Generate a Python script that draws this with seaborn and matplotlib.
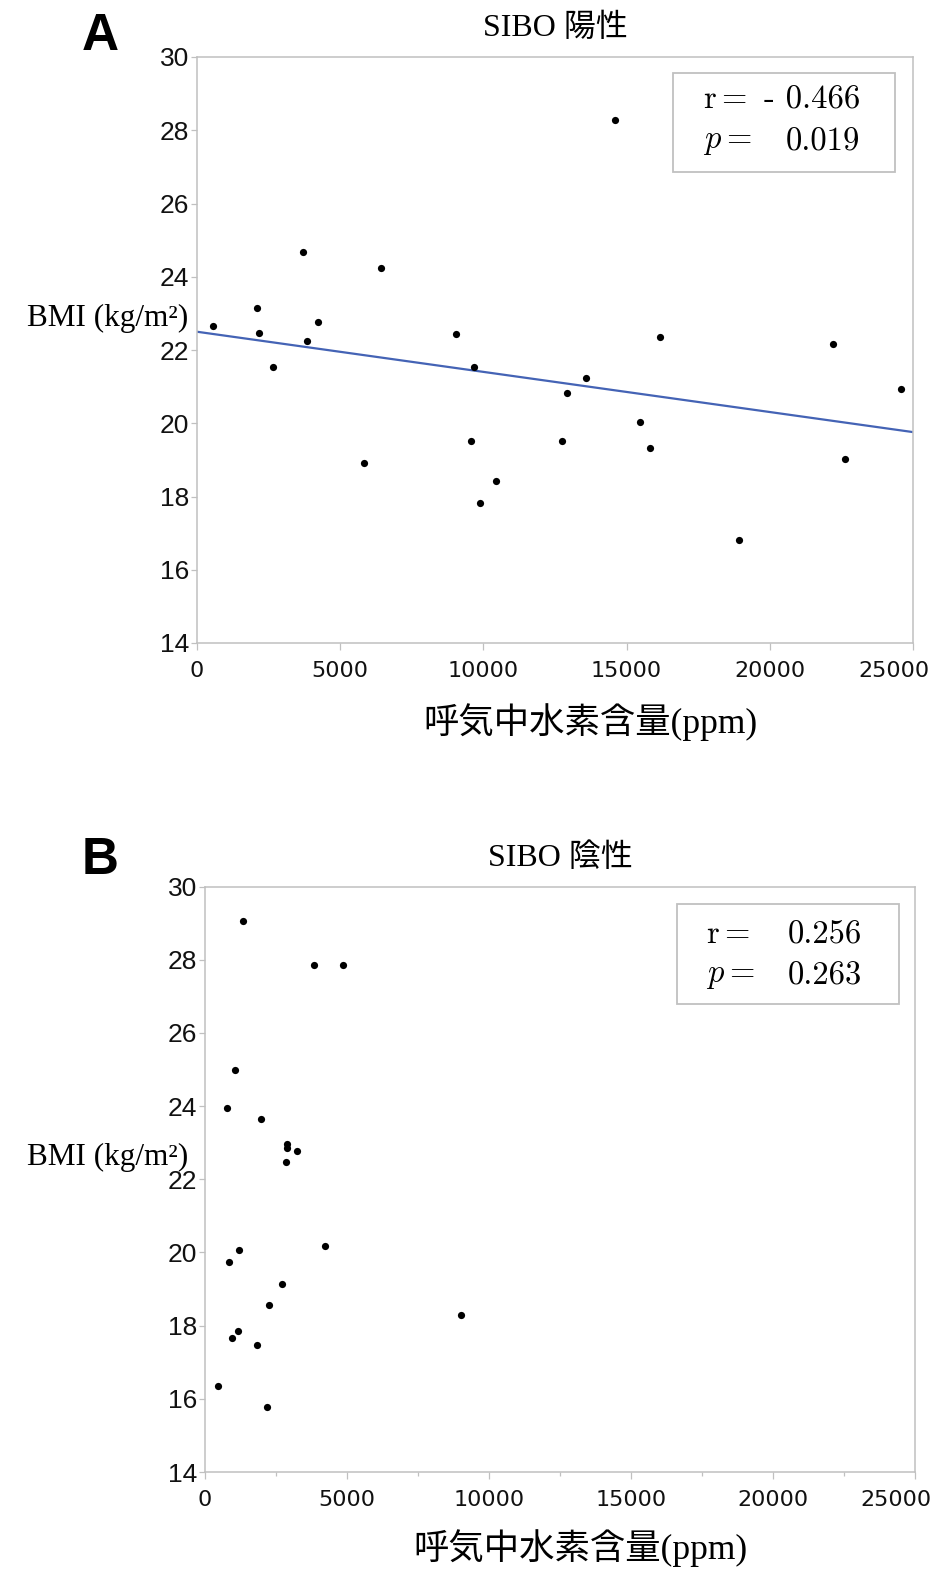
#!/usr/bin/env python3
"""
Scatter of breath hydrogen (ppm) against BMI for SIBO-positive (A)
and SIBO-negative (B) patients, with a regression line for panel A.
"""

import matplotlib
matplotlib.use("Agg")
import matplotlib.pyplot as plt
import matplotlib.transforms as mtransforms
from matplotlib.patches import Rectangle
from matplotlib.ticker import MultipleLocator
import seaborn as sns

# SIBO positive: breath H2 (ppm) and BMI
pos_h2 = [570, 3696, 6423, 2087, 2178, 4231, 3836, 2668, 9056, 9685,
          9570, 5839, 10430, 9895, 14591, 16154, 22203, 13566, 12927, 24591,
          15465, 12727, 15804, 22633, 18927]
pos_bmi = [22.65, 24.67, 24.25, 23.15, 22.46, 22.76, 22.24, 21.54, 22.45, 21.54,
           19.52, 18.91, 18.42, 17.81, 28.29, 22.35, 22.16, 21.24, 20.82, 20.94,
           20.03, 19.52, 19.33, 19.03, 16.82]

# SIBO negative: breath H2 (ppm) and BMI
neg_h2 = [1347, 3826, 4859, 1051, 758, 1967, 2898, 2898, 3237, 2849,
          1192, 853, 4214, 2708, 2264, 8998, 1146, 945, 1826, 465, 2168]
neg_bmi = [29.06, 27.85, 27.85, 24.98, 23.95, 23.65, 22.97, 22.86, 22.78, 22.48,
           20.06, 19.74, 20.17, 19.14, 18.57, 18.28, 17.86, 17.67, 17.47, 16.34, 15.78]

X_TICKS = [0, 5000, 10000, 15000, 20000, 25000]
Y_TICKS = [14, 16, 18, 20, 22, 24, 26, 28, 30]

TITLES = ["SIBO 陽性", "SIBO 陰性"]
PANEL_LABELS = ["A", "B"]
R_TEXT = ["- 0.466", "0.256"]
P_TEXT = ["0.019", "0.263"]
XLABEL = "呼気中水素含量(ppm)"
YLABEL = "BMI (kg/m²)"

W, H = 932, 1569
SPINE = "#c0c0c0"
TXT = "#111111"

sns.set_style("white")
plt.rcParams['font.family'] = ['Liberation Serif', 'Noto Sans CJK JP']
plt.rcParams['mathtext.fontset'] = 'cm'
plt.rcParams['text.color'] = 'black'

fig = plt.figure(figsize=(W / 100, H / 100), dpi=100)


def px_rect(left, top, right, bottom):
    return [left / W, 1 - bottom / H, (right - left) / W, (bottom - top) / H]


def style_axes(ax, minor_x=False):
    ax.set_xlim(0, 25000)
    ax.set_ylim(14, 30)
    ax.set_xticks(X_TICKS)
    ax.set_yticks(Y_TICKS)
    ax.set_xlabel("")
    ax.set_ylabel("")
    for sp in ax.spines.values():
        sp.set_visible(True)
        sp.set_color(SPINE)
        sp.set_linewidth(1.1)
    ax.tick_params(axis='both', direction='out', width=0.9,
                   color=SPINE, labelcolor=TXT)
    ax.tick_params(axis='y', length=4.5, pad=1, left=True)
    ax.tick_params(axis='x', length=5, pad=8, bottom=True)
    if minor_x:
        ax.xaxis.set_minor_locator(MultipleLocator(2500))
        ax.tick_params(axis='x', which='minor', length=2.8, width=0.9,
                       color=SPINE, bottom=True)
    for lbl in ax.get_yticklabels():
        lbl.set_family(['Liberation Sans', 'DejaVu Sans'])
        lbl.set_fontsize(19)
    for lbl in ax.get_xticklabels():
        lbl.set_family(['DejaVu Sans'])
        lbl.set_fontsize(16)
    # last label was pushed left to stay inside the image
    last = ax.get_xticklabels()[-1]
    last.set_transform(last.get_transform() +
                       mtransforms.ScaledTranslation(-0.19, 0, fig.dpi_scale_trans))


def stats_box(ax, r_val, p_val, box, lab_x, val_x, y_r, y_p):
    ax.add_patch(Rectangle((box[0], box[1]), box[2] - box[0], box[3] - box[1],
                           transform=ax.transAxes, facecolor='white',
                           edgecolor=SPINE, linewidth=1.3, zorder=5))
    kw = dict(transform=ax.transAxes, fontsize=23.5, color='black', zorder=6, va='center')
    ax.text(lab_x, y_r, r"$\mathrm{r} =$", ha='left', **kw)
    ax.text(lab_x, y_p, r"$p =$", ha='left', **kw)
    ax.text(val_x, y_r, r_val, ha='right', family='cmr10', **kw)
    ax.text(val_x, y_p, p_val, ha='right', family='cmr10', **kw)


# ---- Panel A ----
axA = fig.add_axes(px_rect(197, 57, 913, 643))
axA.set_xlim(0, 25000)
sns.regplot(x=pos_h2, y=pos_bmi, ax=axA, ci=None, truncate=False,
            scatter_kws=dict(s=27, color='black', alpha=1, linewidths=0, zorder=3),
            line_kws=dict(color='#4463b5', lw=1.6, zorder=2))
style_axes(axA)
axA.set_title(TITLES[0], fontsize=23, pad=15, color='black')
stats_box(axA, R_TEXT[0], P_TEXT[0], (0.6644, 0.8032, 0.9749, 0.9727),
          0.7067, 0.926, 0.9266, 0.8555)

# ---- Panel B ----
axB = fig.add_axes(px_rect(205, 886.5, 915, 1472))
sns.scatterplot(x=neg_h2, y=neg_bmi, ax=axB, s=27, color='black', linewidth=0, zorder=3)
style_axes(axB, minor_x=True)
axB.set_title(TITLES[1], fontsize=23, pad=15, color='black')
stats_box(axB, R_TEXT[1], P_TEXT[1], (0.6648, 0.7993, 0.9775, 0.9701),
          0.7056, 0.925, 0.9172, 0.8471)

# panel letters, axis labels
for lab, y in zip(PANEL_LABELS, [37, 861]):
    fig.text(100 / W, 1 - y / H, lab, fontsize=37, fontweight='bold', color='black',
             family=['Liberation Sans', 'DejaVu Sans'], ha='center', va='center')
for y in [318, 1157]:
    fig.text(188 / W, 1 - y / H, YLABEL, fontsize=22.5, ha='right', va='center')
for x, y in [(590, 722), (580, 1548)]:
    fig.text(x / W, 1 - y / H, XLABEL, fontsize=25.5, ha='center', va='center')

fig.savefig("out.png", dpi=100, facecolor='white')
